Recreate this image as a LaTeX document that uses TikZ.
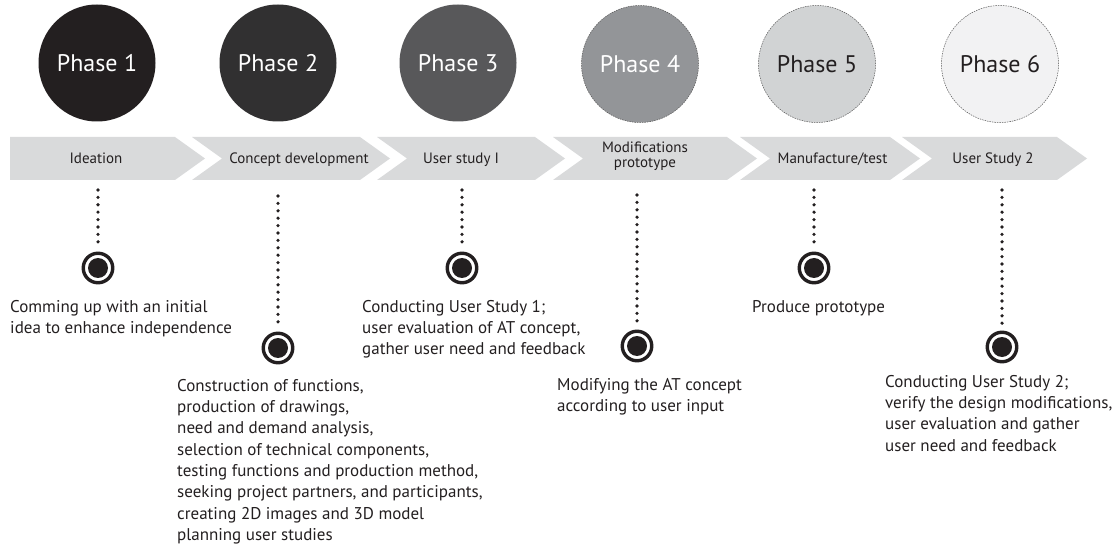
\documentclass[tikz,border=0pt]{standalone}
\usepackage{fontspec}
\setmainfont{PT Sans}
\usetikzlibrary{calc}
\definecolor{txt}{HTML}{231F20}
\definecolor{band}{HTML}{D9DADB}
\definecolor{ph1}{HTML}{231F20}
\definecolor{ph2}{HTML}{313031}
\definecolor{ph3}{HTML}{58585A}
\definecolor{ph4}{HTML}{939598}
\definecolor{ph5}{HTML}{D1D3D4}
\definecolor{ph6}{HTML}{F2F2F3}
\definecolor{edge}{HTML}{555555}
\tikzset{
  phase/.style={circle, minimum size=117pt, inner sep=0pt, font=\fontsize{24}{28}\selectfont},
  lightphase/.style={phase, draw=edge, dashed, line width=0.5pt, dash pattern=on 1.5pt off 1pt},
  bandlabel/.style={font=\fontsize{15}{15.5}\selectfont, text=txt, inner sep=0pt, align=center},
  chev/.style={fill=band},
  target/.style={circle, draw=txt, line width=3.4pt, minimum size=29.5pt, inner sep=0pt,
    path picture={\fill[txt] (path picture bounding box.center) circle (10pt);}},
  dotline/.style={draw=txt, line width=3.6pt, line cap=round, dash pattern=on 0pt off 7.4pt},
  desc/.style={font=\fontsize{17}{21.3}\selectfont, text=txt, align=left, inner sep=0pt, anchor=north west}
}
\begin{document}
\begin{tikzpicture}[x=1pt,y=-1pt]
\useasboundingbox (0,0) rectangle (1119,545);
% phase circles
\node[phase, fill=ph1, text=white] (p1) at (97,63) {Phase 1};
\node[phase, fill=ph2, text=white] (p2) at (278,63) {Phase 2};
\node[phase, fill=ph3, text=white] (p3) at (458,63) {Phase 3};
\node[lightphase, fill=ph4, text=white] (p4) at (640,64) {Phase 4};
\node[lightphase, fill=ph5, text=txt] (p5) at (817,64) {Phase 5};
\node[lightphase, fill=ph6, text=txt] (p6) at (1000,64) {Phase 6};
% chevron band
\fill[chev] (10,137) -- (175,137) -- (205,158.5) -- (175,180) -- (10,180) -- cycle;
\fill[chev] (192,137) -- (360,137) -- (390,158.5) -- (360,180) -- (192,180) -- (222,158.5) -- cycle;
\fill[chev] (377,137) -- (535,137) -- (565,158.5) -- (535,180) -- (377,180) -- (407,158.5) -- cycle;
\fill[chev] (553,137) -- (727,137) -- (757,158.5) -- (727,180) -- (553,180) -- (583,158.5) -- cycle;
\fill[chev] (740,137) -- (890,137) -- (920,158.5) -- (890,180) -- (740,180) -- (770,158.5) -- cycle;
\fill[chev] (902,137) -- (1057,137) -- (1087,158.5) -- (1057,180) -- (902,180) -- (932,158.5) -- cycle;
% band labels
\node[bandlabel, anchor=base] (b1) at (96,163.5) {Ideation};
\node[bandlabel, anchor=base] (b2) at (299,163.5) {Concept development};
\node[bandlabel, anchor=base] (b3) at (461,163.5) {User study I};
\node[bandlabel] (b4) at (645,156) {Modifications\\prototype};
\node[bandlabel, anchor=base] (b5) at (832.5,163.5) {Manufacture/test};
\node[bandlabel, anchor=base] (b6) at (993,163.5) {User Study 2};
% dotted stems and targets
\coordinate (d1) at (98,190);
\coordinate (d2) at (278,196);
\coordinate (d3) at (462,190);
\coordinate (d4) at (637,195);
\coordinate (d5) at (814,190);
\coordinate (d6) at (1002,190);
\node[target] (t1) at (98,268) {};
\node[target] (t2) at (278,348) {};
\node[target] (t3) at (462,268) {};
\node[target] (t4) at (637,346) {};
\node[target] (t5) at (814,268) {};
\node[target] (t6) at (1002,347) {};
\foreach \i in {1,...,6}{
  \draw[dotline, shorten >=5pt] (d\i) -- (t\i.north);
}
% descriptions
\node[desc] (x1) at (10,300) {Comming up with an initial\\idea to enhance independence};
\node[desc] (x2) at (177,379) {Construction of functions,\\production of drawings,\\need and demand analysis,\\selection of technical components,\\testing functions and production method,\\seeking project partners, and participants,\\creating 2D images and 3D model\\planning user studies};
\node[desc] (x3) at (362,300) {Conducting User Study 1;\\user evaluation of AT concept,\\gather user need and feedback};
\node[desc] (x4) at (557,378) {Modifying the AT concept\\according to user input};
\node[desc] (x5) at (752,300) {Produce prototype};
\node[desc] (x6) at (885,375) {Conducting User Study 2;\\verify the design modifications,\\user evaluation and gather\\user need and feedback};
\end{tikzpicture}
\end{document}
